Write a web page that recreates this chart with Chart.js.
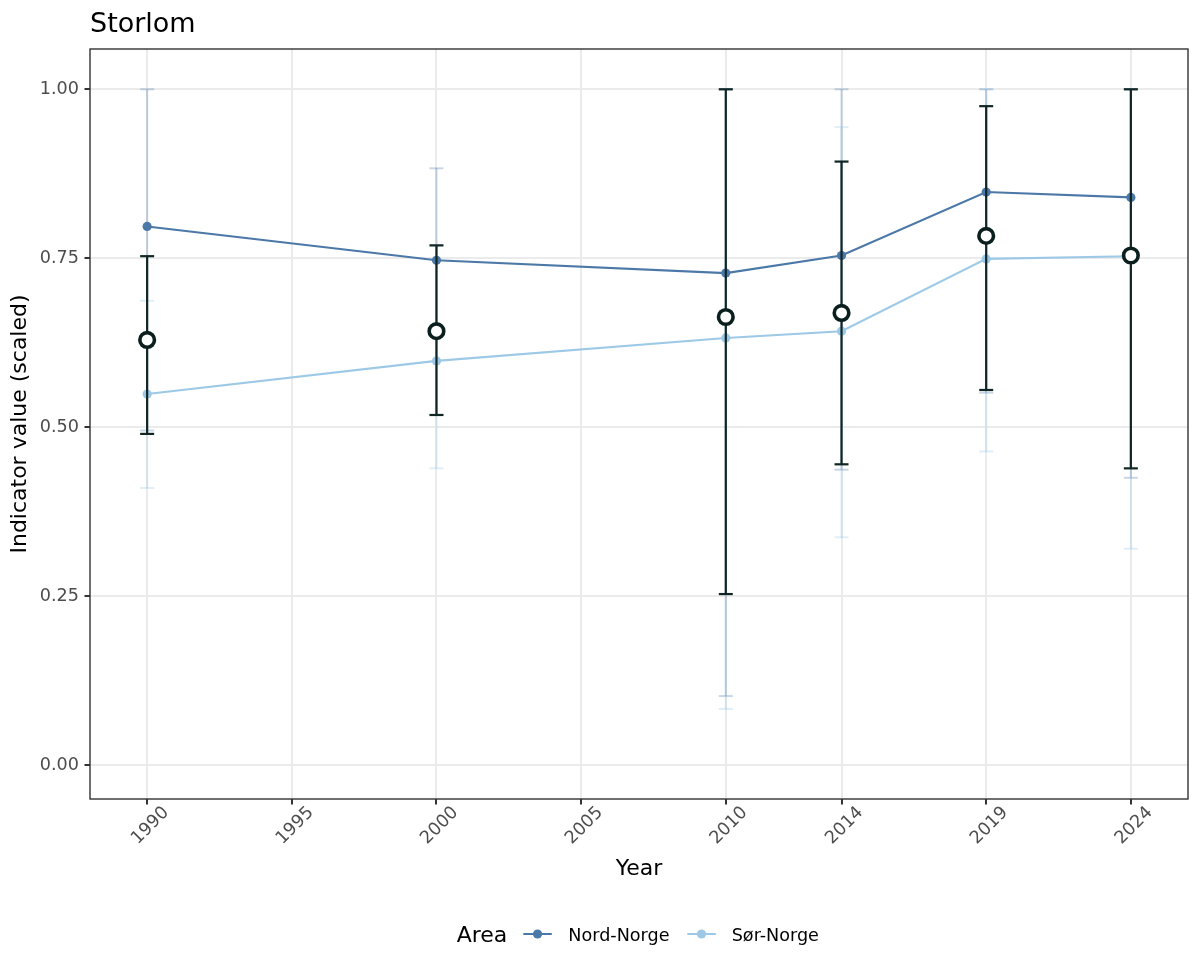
<!DOCTYPE html>
<html>
<head>
<meta charset="utf-8">
<script src="https://cdn.jsdelivr.net/npm/chart.js@4.4.1/dist/chart.umd.min.js"></script>
<style>
  html, body { margin: 0; padding: 0; background: #ffffff; }
  #wrap { width: 1200px; height: 975px; position: relative; }
</style>
</head>
<body>
<div id="wrap"><canvas id="c" width="1200" height="975"></canvas></div>
<script>
// ---- data ----
const chartTitle = 'Storlom';
const years = [1990, 2000, 2010, 2014, 2019, 2024];
const xTicks = [1990, 1995, 2000, 2005, 2010, 2014, 2019, 2024];
const yTicks = [0, 0.25, 0.5, 0.75, 1.0];

const nordValue = [0.797, 0.747, 0.728, 0.754, 0.848, 0.840];
const nordLow   = [0.495, 0.518, 0.102, 0.437, 0.551, 0.425];
const nordHigh  = [1.000, 0.883, 1.000, 1.000, 1.000, 1.000];

const sorValue  = [0.549, 0.598, 0.632, 0.642, 0.749, 0.753];
const sorLow    = [0.410, 0.439, 0.083, 0.337, 0.464, 0.320];
const sorHigh   = [0.687, 0.769, 1.000, 0.944, 1.000, 1.000];

const totalValue = [0.629, 0.642, 0.663, 0.669, 0.783, 0.754];
const totalLow   = [0.490, 0.518, 0.253, 0.445, 0.555, 0.439];
const totalHigh  = [0.753, 0.769, 1.000, 0.893, 0.975, 1.000];

const areaNames = ['Nord-Norge', 'Sør-Norge'];
const legendTitle = 'Area';
const xTitle = 'Year';
const yTitle = 'Indicator value (scaled)';

// ---- styles ----
const FONT = "'DejaVu Sans', 'Noto Sans', sans-serif";
const nordColor = '#4C78A8';
const sorColor = '#9DC9E7';
const nordFaint = 'rgba(76,120,168,0.30)';
const sorFaint = 'rgba(157,201,231,0.32)';
const darkColor = '#0F2625';

function pts(vals) { return years.map((y, i) => ({ x: y, y: vals[i] })); }
function barSegs(lo, hi) {
  const out = [];
  years.forEach((y, i) => { out.push({ x: y, y: lo[i] }, { x: y, y: hi[i] }, { x: y, y: null }); });
  return out;
}
function capPts(lo, hi) {
  const out = [];
  years.forEach((y, i) => { out.push({ x: y, y: lo[i] }, { x: y, y: hi[i] }); });
  return out;
}

function segDataset(label, lo, hi, color, width, order) {
  return { type: 'line', label, data: barSegs(lo, hi), borderColor: color, borderWidth: width,
    pointRadius: 0, spanGaps: false, fill: false, order, tension: 0 };
}
function capDataset(label, lo, hi, color, width, order) {
  return { type: 'scatter', label, data: capPts(lo, hi), pointStyle: 'line', pointRadius: 7,
    borderColor: color, pointBorderColor: color, pointBorderWidth: width, borderWidth: width,
    showLine: false, order };
}

const overlay = {
  id: 'overlay',
  afterDraw(chart) {
    const ctx = chart.ctx;
    const a = chart.chartArea;
    ctx.save();
    // panel border
    ctx.strokeStyle = '#333333';
    ctx.lineWidth = 1.4;
    ctx.strokeRect(a.left, a.top, a.right - a.left, a.bottom - a.top);
    // title
    ctx.fillStyle = '#000000';
    ctx.font = '27px ' + FONT;
    ctx.textAlign = 'left';
    ctx.textBaseline = 'alphabetic';
    ctx.fillText(chartTitle, a.left, 31.7);
    // legend
    ctx.font = '22px ' + FONT;
    ctx.fillText(legendTitle, 456.7, 942);
    const keys = [
      { x0: 523.3, name: areaNames[0], color: chart.data.datasets[6].borderColor, tx: 568.3 },
      { x0: 687.3, name: areaNames[1], color: chart.data.datasets[7].borderColor, tx: 731.7 }
    ];
    keys.forEach(k => {
      ctx.strokeStyle = k.color;
      ctx.lineWidth = 2;
      ctx.beginPath();
      ctx.moveTo(k.x0, 934);
      ctx.lineTo(k.x0 + 28.5, 934);
      ctx.stroke();
      ctx.fillStyle = k.color;
      ctx.beginPath();
      ctx.arc(k.x0 + 14.25, 934, 4.6, 0, Math.PI * 2);
      ctx.fill();
      ctx.fillStyle = '#000000';
      ctx.font = '17.6px ' + FONT;
      ctx.fillText(k.name, k.tx, 940.7);
    });
    ctx.restore();
  }
};

const datasets = [
  segDataset('Nord-Norge CI', nordLow, nordHigh, nordFaint, 2, 9),     // 0
  capDataset('Nord-Norge CI caps', nordLow, nordHigh, nordFaint, 2, 8), // 1
  segDataset('Sør-Norge CI', sorLow, sorHigh, sorFaint, 2, 7),         // 2
  capDataset('Sør-Norge CI caps', sorLow, sorHigh, sorFaint, 2, 6),     // 3
  segDataset('Total CI', totalLow, totalHigh, darkColor, 2.2, 2),       // 4
  capDataset('Total CI caps', totalLow, totalHigh, darkColor, 2.2, 1),  // 5
  { type: 'line', label: areaNames[0], data: pts(nordValue), borderColor: nordColor, borderWidth: 2.1,
    pointRadius: 4.6, pointBackgroundColor: nordColor, pointBorderWidth: 0, fill: false, order: 4, tension: 0 }, // 6
  { type: 'line', label: areaNames[1], data: pts(sorValue), borderColor: sorColor, borderWidth: 2.1,
    pointRadius: 4.6, pointBackgroundColor: sorColor, pointBorderWidth: 0, fill: false, order: 3, tension: 0 }, // 7
  { type: 'scatter', label: 'Total', data: pts(totalValue), pointRadius: 7.3, pointBorderWidth: 3.6,
    pointBorderColor: '#0B1F1E', pointBackgroundColor: '#ffffff', borderColor: '#0B1F1E', backgroundColor: '#ffffff',
    showLine: false, order: 0 } // 8
];

new Chart(document.getElementById('c'), {
  type: 'line',
  data: { datasets },
  options: {
    responsive: false,
    animation: false,
    events: [],
    layout: { padding: { left: 0, right: 12, top: 49, bottom: 76 } },
    plugins: { legend: { display: false }, title: { display: false }, tooltip: { enabled: false } },
    scales: {
      x: {
        type: 'linear',
        min: 1988.025, max: 2025.975,
        afterBuildTicks(scale) { scale.ticks = xTicks.map(v => ({ value: v })); },
        afterFit(scale) { scale.height = 100; },
        border: { display: false },
        grid: { color: '#EBEBEB', lineWidth: 2, drawTicks: true, tickLength: 5.5, tickColor: '#333333', tickWidth: 2 },
        ticks: {
          autoSkip: false, maxRotation: 45, minRotation: 45, padding: -2, labelOffset: 19,
          color: '#4D4D4D', font: { family: FONT, size: 17.6 },
          callback: v => String(v)
        },
        title: { display: true, text: xTitle, color: '#000000', font: { family: FONT, size: 22 }, padding: { top: 0, bottom: 17 } }
      },
      y: {
        type: 'linear',
        min: -0.0503, max: 1.0596,
        afterBuildTicks(scale) { scale.ticks = yTicks.map(v => ({ value: v })); },
        afterFit(scale) { scale.width = 90; },
        border: { display: false },
        grid: { color: '#EBEBEB', lineWidth: 2, drawTicks: true, tickLength: 5.5, tickColor: '#333333', tickWidth: 2 },
        ticks: {
          padding: 5.5, color: '#4D4D4D', font: { family: FONT, size: 17.6 },
          callback: v => Number(v).toFixed(2)
        },
        title: { display: true, text: yTitle, color: '#000000', font: { family: FONT, size: 22 }, padding: { top: 7, bottom: 0 } }
      }
    }
  },
  plugins: [overlay]
});
</script>
</body>
</html>
